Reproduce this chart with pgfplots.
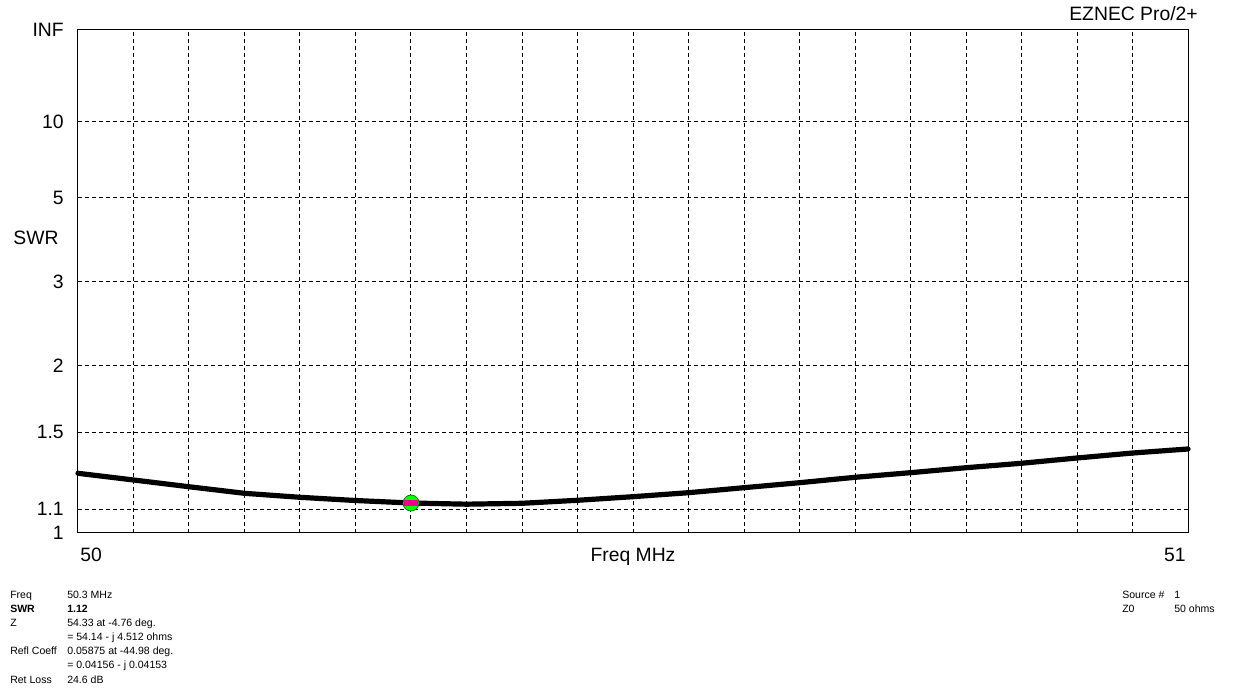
\documentclass[border=0pt]{standalone}
\usepackage{pgfplots}
\pgfplotsset{compat=1.18}
\usepackage{fontspec}
\setmainfont{Liberation Sans}
\newcommand{\bigf}{\fontsize{14.5}{16}\selectfont}
\newcommand{\smf}{\fontsize{7.9}{9}\selectfont}
\begin{document}
\begin{tikzpicture}
\begin{axis}[
  scale only axis, width=832.5pt, height=377.25pt,
  xmin=50, xmax=51, ymin=0, ymax=1,
  y filter/.expression={(y-1)/(y+1)},
  xtick={50.05,50.1,50.15,50.2,50.25,50.3,50.35,50.4,50.45,50.5,50.55,50.6,50.65,50.7,50.75,50.8,50.85,50.9,50.95},
  xticklabel=\empty,
  ytick={0,0.047619,0.2,0.333333,0.5,0.666667,0.818182,1},
  yticklabels={1,1.1,1.5,2,3,5,10,INF},
  yticklabel style={font=\bigf, anchor=east, inner sep=0pt, xshift=-10.5pt},
  grid=major,
  major grid style={black, line width=0.75pt, dash pattern=on 3pt off 2.25pt},
  axis line style={black, line width=0.75pt},
  major tick length=0pt,
  clip=false,
]
\addplot[black, line width=3.9pt, line join=round, line cap=round] table[row sep=\\] {
f swr \\
50.00 1.2694 \\
50.05 1.2356 \\
50.10 1.2026 \\
50.15 1.1713 \\
50.20 1.1528 \\
50.25 1.1381 \\
50.30 1.1268 \\
50.35 1.1215 \\
50.40 1.1255 \\
50.45 1.1391 \\
50.50 1.1556 \\
50.55 1.1742 \\
50.60 1.1980 \\
50.65 1.2222 \\
50.70 1.2490 \\
50.75 1.2725 \\
50.80 1.2983 \\
50.85 1.3218 \\
50.90 1.3505 \\
50.95 1.3781 \\
51.00 1.4010 \\
};
\addplot[only marks, mark=*, mark size=6pt, mark options={fill=green, draw=green!45!black, line width=0.5pt}] coordinates {(50.3,1.1268)};
\addplot[only marks, mark=-, mark size=5.25pt, mark options={draw=magenta, line width=4.5pt}] coordinates {(50.3,1.1268)};

% invisible page frame
\path (rel axis cs:-0.07027,-0.32207) rectangle (rel axis cs:1.05856,1.05964);

\node[font=\bigf, anchor=base] at (rel axis cs:-0.037838,0.572565) {SWR};
\node[font=\bigf, anchor=base west, inner sep=0pt] at (rel axis cs:0.0018,-0.05765) {50};
\node[font=\bigf, anchor=base east, inner sep=0pt] at (rel axis cs:0.9982,-0.05765) {51};
\node[font=\bigf, anchor=base, inner sep=0pt] at (rel axis cs:0.5,-0.05765) {Freq MHz};
\node[font=\bigf, anchor=base east, inner sep=0pt] at (rel axis cs:1.00901,1.01789) {EZNEC Pro/2+};

\node[font=\smf, anchor=base west, inner sep=0pt] at (rel axis cs:-0.061261,-0.131213) {Freq};
\node[font=\smf, anchor=base west, inner sep=0pt] at (rel axis cs:-0.00991,-0.131213) {50.3 MHz};
\node[font=\smf\bfseries, anchor=base west, inner sep=0pt] at (rel axis cs:-0.061261,-0.159046) {SWR};
\node[font=\smf\bfseries, anchor=base west, inner sep=0pt] at (rel axis cs:-0.00991,-0.159046) {1.12};
\node[font=\smf, anchor=base west, inner sep=0pt] at (rel axis cs:-0.061261,-0.186879) {Z};
\node[font=\smf, anchor=base west, inner sep=0pt] at (rel axis cs:-0.00991,-0.186879) {54.33 at -4.76 deg.};
\node[font=\smf, anchor=base west, inner sep=0pt] at (rel axis cs:-0.00991,-0.214712) {= 54.14 - j 4.512 ohms};
\node[font=\smf, anchor=base west, inner sep=0pt] at (rel axis cs:-0.061261,-0.242545) {Refl Coeff};
\node[font=\smf, anchor=base west, inner sep=0pt] at (rel axis cs:-0.00991,-0.242545) {0.05875 at -44.98 deg.};
\node[font=\smf, anchor=base west, inner sep=0pt] at (rel axis cs:-0.00991,-0.270378) {= 0.04156 - j 0.04153};
\node[font=\smf, anchor=base west, inner sep=0pt] at (rel axis cs:-0.061261,-0.298211) {Ret Loss};
\node[font=\smf, anchor=base west, inner sep=0pt] at (rel axis cs:-0.00991,-0.298211) {24.6 dB};

\node[font=\smf, anchor=base west, inner sep=0pt] at (rel axis cs:0.940541,-0.131213) {Source \#};
\node[font=\smf, anchor=base west, inner sep=0pt] at (rel axis cs:0.987387,-0.131213) {1};
\node[font=\smf, anchor=base west, inner sep=0pt] at (rel axis cs:0.940541,-0.159046) {Z0};
\node[font=\smf, anchor=base west, inner sep=0pt] at (rel axis cs:0.987387,-0.159046) {50 ohms};
\end{axis}
\end{tikzpicture}
\end{document}
